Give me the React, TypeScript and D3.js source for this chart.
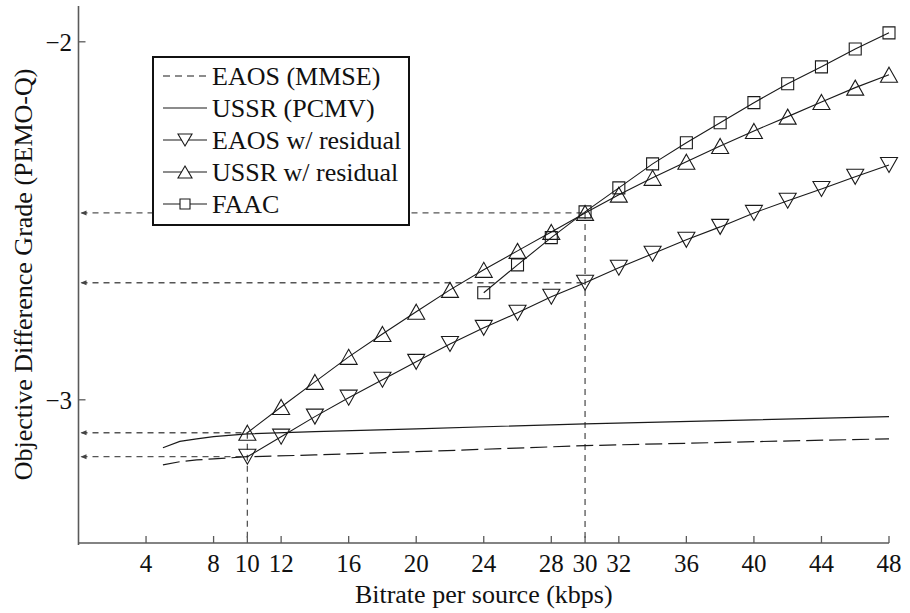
import React, { useEffect, useRef } from "react";
import * as d3 from "d3";

// dados
const xTicks = [4, 8, 10, 12, 16, 20, 24, 28, 30, 32, 36, 40, 44, 48];
const yTicks = [-2, -3];

const resX = [10, 12, 14, 16, 18, 20, 22, 24, 26, 28, 30, 32, 34, 36, 38, 40, 42, 44, 46, 48];
const ussrRes = [-3.092, -3.02, -2.95, -2.88, -2.816, -2.754, -2.693, -2.637, -2.584, -2.531,
  -2.478, -2.427, -2.38, -2.335, -2.291, -2.249, -2.209, -2.168, -2.128, -2.092];
const eaosRes = [-3.159, -3.103, -3.047, -2.994, -2.944, -2.894, -2.844, -2.799, -2.757, -2.712,
  -2.673, -2.631, -2.592, -2.553, -2.517, -2.478, -2.444, -2.411, -2.377, -2.344];

const faacX = [24, 26, 28, 30, 32, 34, 36, 38, 40, 42, 44, 46, 48];
const faac = [-2.701, -2.623, -2.547, -2.475, -2.408, -2.341, -2.282, -2.226, -2.17, -2.117,
  -2.07, -2.02, -1.975];

const baseX = [5, 6, 7, 8, 10, 14, 20, 30, 40, 48];
const eaosMmse = [-3.182, -3.173, -3.168, -3.165, -3.159, -3.154, -3.145, -3.128, -3.117, -3.109];
const ussrPcmv = [-3.134, -3.116, -3.109, -3.103, -3.095, -3.089, -3.081, -3.067, -3.056, -3.047];

// linhas de referência (x, y)
const refPoints = [
  [30, -2.478],
  [30, -2.673],
  [10, -3.092],
  [10, -3.159],
];
const refVertical = [
  [10, -3.092],
  [30, -2.478],
];

const legendLabels = ["EAOS (MMSE)", "USSR (PCMV)", "EAOS w/ residual", "USSR w/ residual", "FAAC"];

const FONT = '"Liberation Serif", "Times New Roman", serif';

const App = () => {
  const svgRef = useRef(null);
  const width = 910;
  const height = 613;

  useEffect(() => {
    const svg = d3.select(svgRef.current);
    svg.selectAll("*").remove();

    const x = d3.scaleLinear().domain([0, 48]).range([78.5, 889]);
    const y = d3.scaleLinear().domain([-3.4, -1.9]).range([543, 6]);

    const axisColor = "#5a5a5a";
    const lineColor = "#1a1a1a";

    // linhas tracejadas de referência
    const ref = svg.append("g");
    refPoints.forEach(([px, py]) => {
      ref.append("line")
        .attr("x1", x(0) + 3).attr("x2", x(px))
        .attr("y1", y(py)).attr("y2", y(py))
        .attr("stroke", "#555").attr("stroke-width", 1.3)
        .attr("stroke-dasharray", "6,5");
      ref.append("path")
        .attr("d", `M${x(0) + 2},${y(py)} l6,-2.5 l0,5 z`)
        .attr("fill", "#444");
    });
    refVertical.forEach(([px, py]) => {
      ref.append("line")
        .attr("x1", x(px)).attr("x2", x(px))
        .attr("y1", y(py)).attr("y2", y(-3.4))
        .attr("stroke", "#555").attr("stroke-width", 1.3)
        .attr("stroke-dasharray", "6,5");
    });

    const line = d3.line().x((d) => x(d[0])).y((d) => y(d[1]));

    // curvas base
    svg.append("path")
      .attr("d", line(baseX.map((v, i) => [v, eaosMmse[i]])))
      .attr("fill", "none").attr("stroke", lineColor).attr("stroke-width", 1.2)
      .attr("stroke-dasharray", "17,6");
    svg.append("path")
      .attr("d", line(baseX.map((v, i) => [v, ussrPcmv[i]])))
      .attr("fill", "none").attr("stroke", lineColor).attr("stroke-width", 1.2);

    const triUp = (w, h) => `M0,${-h / 2} L${w / 2},${h / 2} L${-w / 2},${h / 2} Z`;
    const triDown = (w, h) => `M0,${h / 2} L${w / 2},${-h / 2} L${-w / 2},${-h / 2} Z`;
    const square = (s) => `M${-s / 2},${-s / 2} h${s} v${s} h${-s} Z`;

    const series = [
      { xs: resX, ys: eaosRes, marker: triDown(17, 15) },
      { xs: resX, ys: ussrRes, marker: triUp(17, 15) },
      { xs: faacX, ys: faac, marker: square(12) },
    ];

    series.forEach((s) => {
      const pts = s.xs.map((v, i) => [v, s.ys[i]]);
      svg.append("path")
        .attr("d", line(pts))
        .attr("fill", "none").attr("stroke", lineColor).attr("stroke-width", 1.1);
      svg.append("g")
        .selectAll("path")
        .data(pts)
        .enter()
        .append("path")
        .attr("transform", (d) => `translate(${x(d[0])},${y(d[1])})`)
        .attr("d", s.marker)
        .attr("fill", "none")
        .attr("stroke", lineColor)
        .attr("stroke-width", 1.1);
    });

    // eixos
    const axes = svg.append("g").attr("font-family", FONT).attr("fill", "#111");
    axes.append("line")
      .attr("x1", x(0)).attr("x2", x(48)).attr("y1", y(-3.4)).attr("y2", y(-3.4))
      .attr("stroke", axisColor).attr("stroke-width", 1.6);
    axes.append("line")
      .attr("x1", x(0)).attr("x2", x(0)).attr("y1", y(-1.9)).attr("y2", y(-3.4) + 2)
      .attr("stroke", axisColor).attr("stroke-width", 1.6);

    xTicks.forEach((t) => {
      axes.append("line")
        .attr("x1", x(t)).attr("x2", x(t)).attr("y1", y(-3.4)).attr("y2", y(-3.4) - 7)
        .attr("stroke", axisColor).attr("stroke-width", 1.3);
      axes.append("text")
        .attr("x", x(t)).attr("y", 572)
        .attr("text-anchor", "middle")
        .style("font-size", "25px")
        .text(t);
    });
    yTicks.forEach((t) => {
      axes.append("line")
        .attr("x1", x(0)).attr("x2", x(0) + 7).attr("y1", y(t)).attr("y2", y(t))
        .attr("stroke", axisColor).attr("stroke-width", 1.3);
      axes.append("text")
        .attr("x", 72).attr("y", y(t)).attr("dy", "0.36em")
        .attr("text-anchor", "end")
        .style("font-size", "25px")
        .text(`\u2212${Math.abs(t)}`);
    });

    axes.append("text")
      .attr("x", (x(0) + x(48)) / 2).attr("y", 603)
      .attr("text-anchor", "middle")
      .style("font-size", "26px")
      .text("Bitrate per source (kbps)");
    axes.append("text")
      .attr("transform", `translate(32,${(y(-3.4) + y(-1.9)) / 2}) rotate(-90)`)
      .attr("text-anchor", "middle")
      .style("font-size", "26px")
      .text("Objective Difference Grade (PEMO-Q)");

    // legenda
    const leg = svg.append("g");
    leg.append("rect")
      .attr("x", 153).attr("y", 57).attr("width", 256).attr("height", 168)
      .attr("fill", "white").attr("stroke", "#111").attr("stroke-width", 2);
    const legMarkers = [null, null, triDown(14, 12), triUp(14, 12), square(10)];
    legendLabels.forEach((label, i) => {
      const cy = 76 + i * 32;
      leg.append("line")
        .attr("x1", 163).attr("x2", 207).attr("y1", cy).attr("y2", cy)
        .attr("stroke", lineColor).attr("stroke-width", 1.1)
        .attr("stroke-dasharray", i === 0 ? "7,5" : null);
      if (legMarkers[i]) {
        leg.append("path")
          .attr("transform", `translate(185,${cy})`)
          .attr("d", legMarkers[i])
          .attr("fill", "white").attr("stroke", lineColor).attr("stroke-width", 1.1);
      }
      leg.append("text")
        .attr("x", 212).attr("y", cy).attr("dy", "0.35em")
        .attr("font-family", FONT)
        .style("font-size", "26px")
        .attr("fill", "#111")
        .text(label);
    });
  }, []);

  return (
    <svg
      ref={svgRef}
      width={width}
      height={height}
      style={{ position: "absolute", left: 0, top: 0, background: "white" }}
    ></svg>
  );
};

export default App;
